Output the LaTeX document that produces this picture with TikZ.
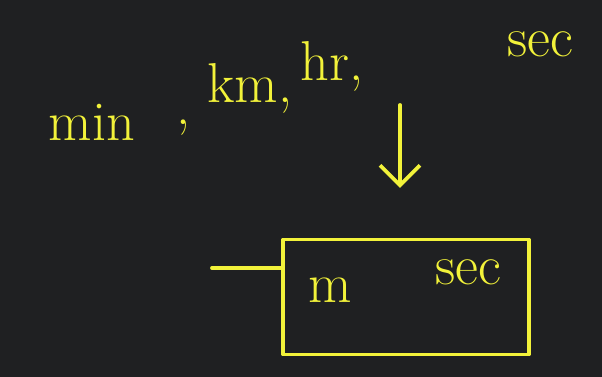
\documentclass[tikz,border=0pt]{standalone}
\usepackage{tikz}
\usetikzlibrary{arrows.meta,positioning}

\definecolor{board}{HTML}{1F2022}
\definecolor{chalk}{HTML}{F2F23A}

\begin{document}
\begin{tikzpicture}[
  x=0.02cm, y=-0.02cm,
  ink/.style={text=chalk, inner sep=0pt, font=\fontsize{32}{36}\selectfont},
  stroke/.style={draw=chalk, line width=2.2pt, line cap=round, line join=round},
  arrow/.style={stroke, -{Straight Barb[length=4mm, width=8mm]}},
]
  \fill[board] (0,0) rectangle (602,377);
  \useasboundingbox (0,0) rectangle (602,377);

  % units on top
  \node[ink] (min) at (92,122) {min};
  \node[ink] (c1) at (184,128) {,};
  \node[ink] (km) at (250,88) {km,};
  \node[ink] (hr) at (332,66) {hr,};
  \node[ink] (sec) at (540,44) {sec};

  % arrow down to the box
  \coordinate (arrtop) at (400,105);
  \coordinate (arrbot) at (400,188);
  \draw[arrow] (arrtop) -- (arrbot);

  % box with m sec
  \node[stroke, inner sep=0pt, minimum width=4.92cm, minimum height=2.3cm]
    (box) at (406,297) {};
  \node[ink] (m) at (330,290) {m};
  \node[ink] (msec) at (468,272) {sec};
  \coordinate (bar) at (212,268);
  \draw[stroke] (bar) -- (box.west |- bar);
\end{tikzpicture}
\end{document}
